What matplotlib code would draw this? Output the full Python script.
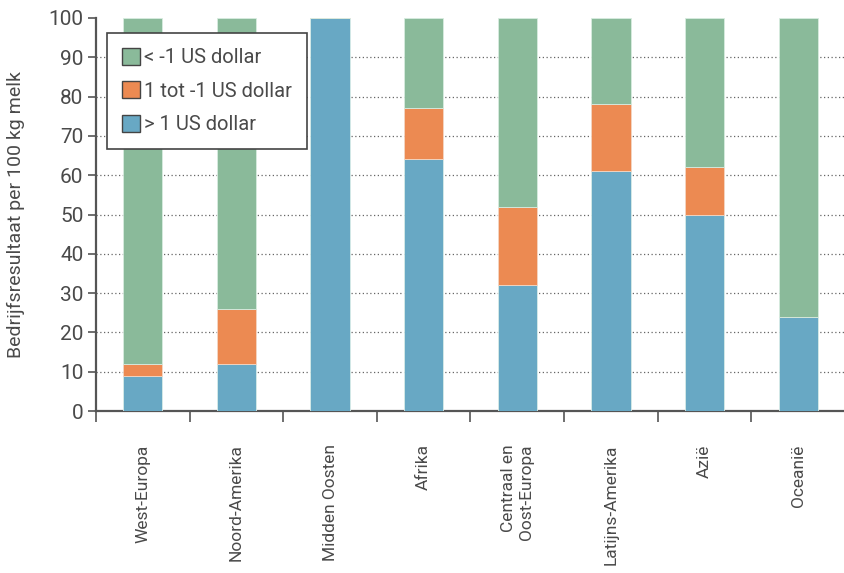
import matplotlib.pyplot as plt
from matplotlib.patches import Patch

regions = ['West-Europa', 'Noord-Amerika', 'Midden Oosten', 'Afrika',
           'Centraal en\nOost-Europa', 'Latijns-Amerika', 'Azië', 'Oceanië']
above_1 = [9, 12, 100, 64, 32, 61, 50, 24]
between = [3, 14, 0, 13, 20, 17, 12, 0]
below_min1 = [88, 74, 0, 23, 48, 22, 38, 76]

series_labels = ['< -1 US dollar', '1 tot -1 US dollar', '> 1 US dollar']
c_green = '#8aba9a'
c_orange = '#ec8a52'
c_blue = '#68a8c4'
text_col = '#4a4a4a'
axis_col = '#555555'

plt.rcParams['font.family'] = ['Roboto', 'DejaVu Sans']

fig = plt.figure(figsize=(8.45, 5.73), dpi=100)
ax = fig.add_axes([0.1136, 0.2827, 0.8864, 0.6859])

x = list(range(len(regions)))
w = 0.42
ax.bar(x, above_1, width=w, color=c_blue, edgecolor='#d8ece8', linewidth=0.6, zorder=3)
bottom2 = above_1
ax.bar(x, between, width=w, bottom=bottom2, color=c_orange,
       edgecolor='#f3d6c4', linewidth=0.6, zorder=3)
bottom3 = [a + b for a, b in zip(above_1, between)]
ax.bar(x, below_min1, width=w, bottom=bottom3, color=c_green,
       edgecolor='#d8ece0', linewidth=0.6, zorder=3)

ax.set_xlim(-0.5, len(regions) - 0.5)
ax.set_ylim(0, 100)
ax.set_yticks(range(0, 101, 10))
ax.tick_params(axis='y', labelsize=15, colors=axis_col, labelcolor=text_col,
               length=6, width=1.2, pad=3)

ax.set_xticks(x)
ax.set_xticklabels(regions, rotation=90, ha='center', va='top',
                   multialignment='right', fontsize=12.5, color=text_col)
ax.tick_params(axis='x', which='major', length=0, pad=24)
ax.set_xticks([i - 0.5 for i in x] + [len(regions) - 0.5], minor=True)
ax.tick_params(axis='x', which='minor', length=8, width=1.2, colors=axis_col)

for y in range(10, 100, 10):
    ax.axhline(y, color='#666666', linestyle=(0, (1, 2)), linewidth=0.9, zorder=1)

for s in ['top', 'right']:
    ax.spines[s].set_visible(False)
for s in ['left', 'bottom']:
    ax.spines[s].set_color(axis_col)
    ax.spines[s].set_linewidth(1.6)

ax.set_ylabel('Bedrijfsresultaat per 100 kg melk', fontsize=14, color=text_col)
ax.yaxis.set_label_coords(-0.095, 0.5)

handles = [Patch(facecolor=c_green, edgecolor='#444444', linewidth=1),
           Patch(facecolor=c_orange, edgecolor='#444444', linewidth=1),
           Patch(facecolor=c_blue, edgecolor='#444444', linewidth=1)]
leg = ax.legend(handles, series_labels, loc='upper left',
                bbox_to_anchor=(0.0147, 0.962), borderaxespad=0,
                fontsize=14.5, frameon=True,
                fancybox=False, framealpha=1, handlelength=0.9, handleheight=0.9,
                handletextpad=0.2, labelspacing=0.7, borderpad=0.75,
                labelcolor=text_col)
leg.get_frame().set_edgecolor('#444444')
leg.get_frame().set_linewidth(1.2)
leg.set_zorder(5)

fig.savefig('out.png', dpi=100)
